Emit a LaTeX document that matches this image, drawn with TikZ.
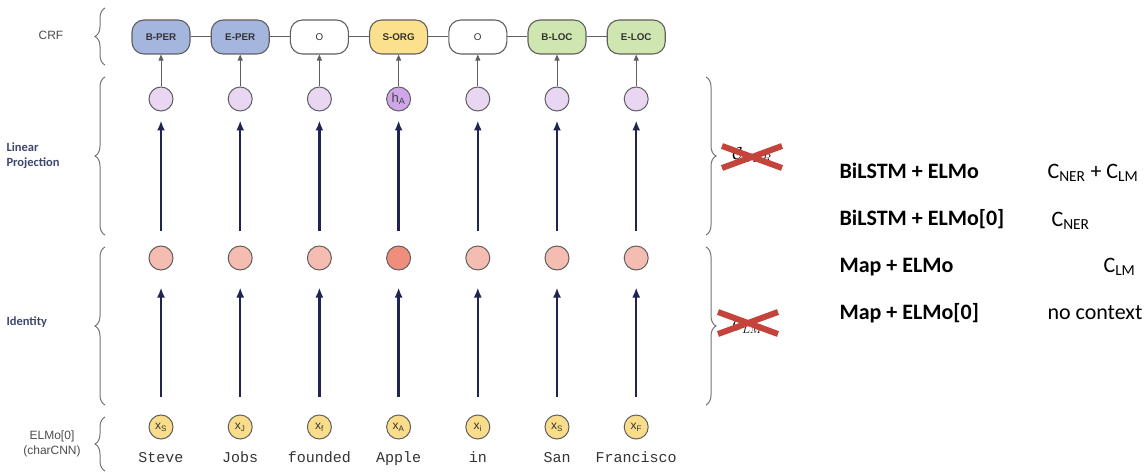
\documentclass[tikz,border=0pt]{standalone}
\usepackage{fontspec}
\setmainfont{Liberation Sans}
\setmonofont{Liberation Mono}
\newfontfamily\calfont{Carlito}
\usetikzlibrary{arrows.meta,decorations.pathreplacing,shapes.misc}
\definecolor{perfill}{HTML}{A4B6DD}
\definecolor{orgfill}{HTML}{FBE08D}
\definecolor{locfill}{HTML}{D0E6B1}
\definecolor{hfill}{HTML}{E8D6F2}
\definecolor{hafill}{HTML}{CFA6E8}
\definecolor{idfill}{HTML}{F5BDB2}
\definecolor{iafill}{HTML}{EF8E7D}
\definecolor{xfill}{HTML}{F9DD8B}
\definecolor{navy}{HTML}{1F2552}
\definecolor{xred}{HTML}{C4433A}
\definecolor{edgegray}{HTML}{5F5F5F}
\tikzset{
  tagbox/.style={draw=edgegray,line width=1.1pt,rounded corners=12pt,minimum width=58pt,minimum height=34pt,font=\fontsize{9.8}{10}\selectfont\bfseries,text=black!80},
  unit/.style={circle,draw=edgegray,line width=1pt,minimum size=24pt,inner sep=0pt},
  flow/.style={navy,line width=2.3pt,-{Latex[length=10pt,width=8pt]}},
  crfarrow/.style={edgegray,line width=0.9pt,-{Triangle[length=6pt,width=5pt]}},
  bracel/.style={decorate,decoration={brace,amplitude=10pt},draw=black!55,line width=1pt},
  crossx/.style={cross out,draw=xred,line width=6pt,minimum width=54pt,minimum height=16pt,inner sep=0pt},
  leftlab/.style={font=\calfont\fontsize{12.5}{15}\selectfont\bfseries,text=navy!85,align=left},
  greylab/.style={font=\fontsize{12}{15}\selectfont,text=black!70,align=center},
  model/.style={font=\calfont\fontsize{22}{24}\selectfont\bfseries,anchor=west},
  ctx/.style={font=\calfont\fontsize{22}{24}\selectfont,anchor=west}
}
\begin{document}
\begin{tikzpicture}[x=1pt,y=-1pt]
    \useasboundingbox (0,0) rectangle (1146,473);
    %% columns: word / sub / tag / tag fill / hidden fill / identity fill / hidden label
    \foreach \w/\s/\t/\tc/\hc/\ic/\hl [count=\i] in {
        Steve/S/B-PER/perfill/hfill/idfill/{},
        Jobs/J/E-PER/perfill/hfill/idfill/{},
        founded/f/{\mdseries O}/white/hfill/idfill/{},
        Apple/A/S-ORG/orgfill/hafill/iafill/{h\textsubscript{A}},
        in/i/{\mdseries O}/white/hfill/idfill/{},
        San/S/B-LOC/locfill/hfill/idfill/{},
        Francisco/F/E-LOC/locfill/hfill/idfill/{}} {
        \pgfmathsetmacro\xx{161+79.2*(\i-1)}
        \node[tagbox,fill=\tc] (tag\i) at (\xx,37) {\t};
        \node[unit,fill=\hc,font=\fontsize{13}{13}\selectfont,text=black!75] (hid\i) at (\xx,99) {\hl};
        \node[unit,fill=\ic] (id\i) at (\xx,258) {};
        \node[unit,fill=xfill,font=\fontsize{12}{12}\selectfont,text=black!80] (x\i) at (\xx,427) {x\textsubscript{\s}};
        \node[font=\ttfamily\fontsize{15}{15}\selectfont,text=black!80,anchor=base] (w\i) at (\xx,462) {\w};
        \draw[crfarrow] (hid\i) -- (tag\i);
        \draw[flow,shorten <=14pt,shorten >=9pt] (id\i) -- (hid\i);
        \draw[flow,shorten <=18pt,shorten >=17pt] (x\i) -- (id\i);
    }
    %% CRF chain
    \foreach \i [evaluate=\i as \j using int(\i+1)] in {1,...,6}
        \draw[edgegray,line width=1pt] (tag\i.east) -- (tag\j.west);
    %% layer braces
    \draw[bracel] (105,65) -- (105,8);
    \draw[bracel] (105,235) -- (105,77);
    \draw[bracel] (105,405) -- (105,247);
    \draw[bracel] (105,471) -- (105,417);
    \node[greylab] (crf) at (51,35) {CRF};
    \node[leftlab,anchor=west] (lin) at (3,156) {Linear\\Projection};
    \node[leftlab,anchor=west] (ident) at (3,322) {Identity};
    \node[greylab] (elmo) at (52,444) {ELMo[0]\\(charCNN)};
    %% context braces
    \draw[bracel] (706,77) -- (706,235);
    \draw[bracel] (706,247) -- (706,405);
    \node[font=\fontsize{18}{18}\selectfont] (cner) at (752,155) {$\mathcal{C}_{NER}$};
    \node[crossx] (xner) at (752,157) {};
    \node[font=\fontsize{18}{18}\selectfont] (clm) at (748,326) {$\mathcal{C}_{LM}$};
    \node[crossx] (xlm) at (748,323) {};
    %% models
    \node[model] (m1) at (836,171) {BiLSTM + ELMo};
    \node[model] (m2) at (836,219) {BiLSTM + ELMo[0]};
    \node[model] (m3) at (836,267) {Map + ELMo};
    \node[model] (m4) at (836,313) {Map + ELMo[0]};
    \node[ctx] (c1) at (1044,173) {C\textsubscript{NER} + C\textsubscript{LM}};
    \node[ctx] (c2) at (1048,221) {C\textsubscript{NER}};
    \node[ctx] (c3) at (1100,267) {C\textsubscript{LM}};
    \node[ctx] (c4) at (1044,313) {no context};
\end{tikzpicture}
\end{document}
